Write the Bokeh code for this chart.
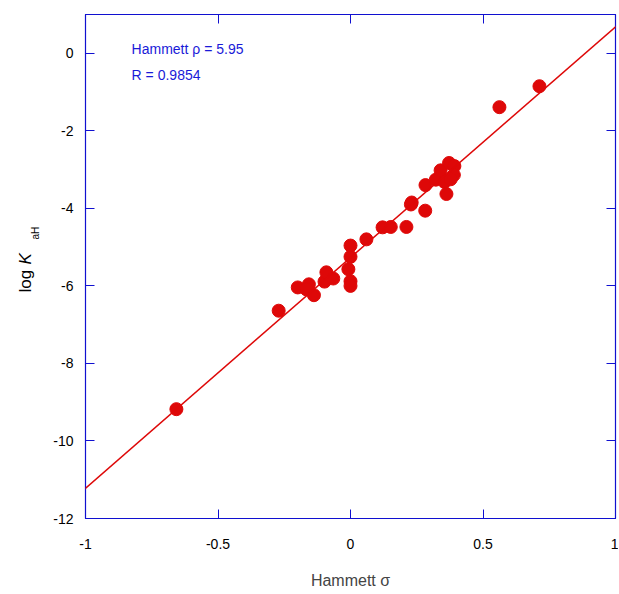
import math
from bokeh.plotting import figure
from bokeh.layouts import row
from bokeh.models import LinearAxis, Label, Slope, FixedTicker, Range1d
from bokeh.embed import file_html
from bokeh.resources import INLINE

sigma = [-0.657, -0.271, -0.199, -0.157, -0.166, -0.138, -0.098, -0.091, -0.065, -0.008,
         0.0, 0.0, 0.0, 0.0, 0.06, 0.121, 0.152, 0.211, 0.231, 0.228, 0.282, 0.283,
         0.322, 0.34, 0.355, 0.362, 0.372, 0.392, 0.39, 0.378, 0.562, 0.713]
log_kah = [-9.18, -6.64, -6.04, -5.96, -6.09, -6.24, -5.89, -5.65, -5.81, -5.57,
           -5.88, -6.0, -5.25, -4.96, -4.80, -4.49, -4.48, -4.48, -3.85, -3.90, -4.06, -3.40,
           -3.26, -3.02, -3.32, -3.63, -2.83, -2.91, -3.14, -3.25, -1.39, -0.85]
rho = 5.95
intercept = -5.27
r_value = 0.9854
x_ticks = [-1, -0.5, 0, 0.5, 1]
x_tick_labels = {-1: "-1", -0.5: "-0.5", 0: "0", 0.5: "0.5", 1: "1"}
y_ticks = [-12, -10, -8, -6, -4, -2, 0]
y_tick_labels = {-12: "-12", -10: "-10", -8: "-8", -6: "-6", -4: "-4", -2: "-2", 0: "0"}

RED = "#de0808"
BLUE = "#1010d0"
TXT_BLUE = "#1a1ad8"
FONT = "Liberation Sans"
H = 592
LW = 45
FRAME_BOTTOM = 518  # page y of the (shared) frame bottom

p = figure(width=618 - LW, height=H, output_backend="svg", toolbar_location=None,
           x_range=Range1d(-1, 1), y_range=Range1d(-12, 1),
           min_border_left=85 - LW, min_border_right=3, min_border_top=14, min_border_bottom=74)
p.grid.visible = False
p.outline_line_color = BLUE
p.outline_line_width = 1.2
p.background_fill_color = "white"

p.add_layout(Slope(gradient=rho, y_intercept=intercept, line_color=RED, line_width=1.5))
p.scatter(sigma, log_kah, size=13, fill_color=RED, line_color=RED)

p.xaxis.ticker = FixedTicker(ticks=x_ticks)
p.xaxis.major_label_overrides = x_tick_labels
p.yaxis.ticker = FixedTicker(ticks=y_ticks)
p.yaxis.major_label_overrides = y_tick_labels

for ax in (p.xaxis[0], p.yaxis[0]):
    ax.axis_line_color = BLUE
    ax.major_tick_line_color = BLUE
    ax.major_tick_in = 9
    ax.major_tick_out = 0
    ax.minor_tick_line_color = None
    ax.major_label_text_font = FONT
    ax.major_label_text_font_size = "14px"
    ax.major_label_text_color = "black"
    ax.axis_label_text_font = FONT
    ax.axis_label_text_font_size = "16px"
    ax.axis_label_text_font_style = "normal"

p.xaxis.major_label_standoff = 20
p.xaxis.axis_label = "Hammett σ"
p.xaxis.axis_label_standoff = 20
p.yaxis.major_label_standoff = 12

for loc, tk in (("right", y_ticks), ("above", x_ticks)):
    ax = LinearAxis(ticker=FixedTicker(ticks=tk))
    ax.axis_line_color = BLUE
    ax.major_tick_line_color = BLUE
    ax.major_tick_in = 9
    ax.major_tick_out = 0
    ax.minor_tick_line_color = None
    ax.major_label_text_color = None
    ax.major_label_text_font_size = "1px"
    ax.major_label_standoff = 0
    p.add_layout(ax, loc)

p.add_layout(Label(x=-0.826, y=0.1, text=f"Hammett ρ = {rho}", text_font=FONT,
                   text_font_size="14px", text_color=TXT_BLUE, text_baseline="alphabetic"))
p.add_layout(Label(x=-0.826, y=-0.55, text=f"R = {r_value}", text_font=FONT,
                   text_font_size="14px", text_color=TXT_BLUE, text_baseline="alphabetic"))

# narrow strip holding the y-axis title (log K with subscript aH)
lab = figure(width=LW, height=H, output_backend="svg", toolbar_location=None,
             x_range=Range1d(0, 1), y_range=Range1d(0, 1),
             min_border_left=0, min_border_right=0, min_border_top=0, min_border_bottom=0)
lab.axis.visible = False
lab.grid.visible = False
lab.outline_line_color = None
lab.add_layout(Label(x=25, y=FRAME_BOTTOM - 292, x_units="screen", y_units="screen", text="log",
                     angle=math.pi / 2, text_font=FONT, text_font_size="17px",
                     text_baseline="alphabetic", text_align="left", text_color="black"))
lab.add_layout(Label(x=25, y=FRAME_BOTTOM - 264, x_units="screen", y_units="screen", text="K",
                     angle=math.pi / 2, text_font=FONT, text_font_size="17px",
                     text_font_style="italic", text_baseline="alphabetic",
                     text_align="left", text_color="black"))
lab.add_layout(Label(x=35, y=FRAME_BOTTOM - 239, x_units="screen", y_units="screen", text="aH",
                     angle=math.pi / 2, text_font=FONT, text_font_size="10px",
                     text_baseline="alphabetic", text_align="left", text_color="black"))

layout = row(lab, p)
open("out.html", "w").write(file_html(layout, INLINE))
